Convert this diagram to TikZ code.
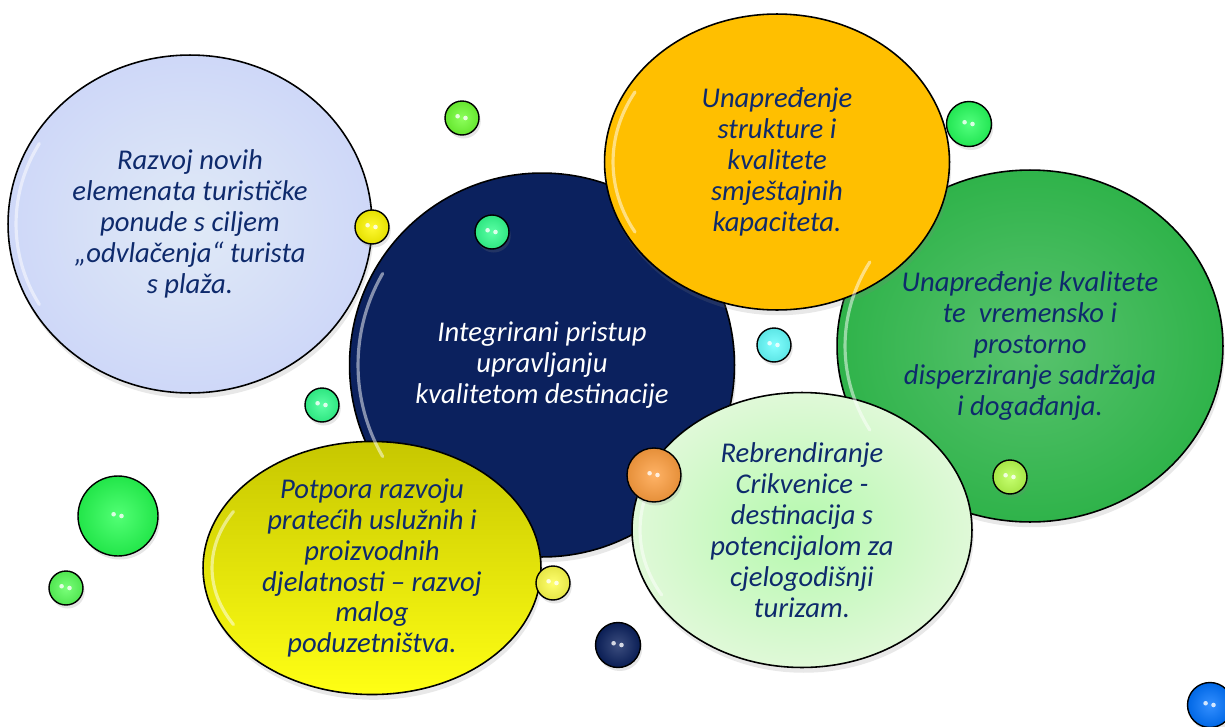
\documentclass[tikz,border=0pt]{standalone}
\usepackage{fontspec}
\setmainfont{Carlito}
\usetikzlibrary{shapes.geometric,shadows,positioning}

\definecolor{txtblue}{HTML}{0E2A6C}
\definecolor{skyblue}{HTML}{D3E1F4}
\definecolor{navyfill}{HTML}{0B215E}
\definecolor{amber}{HTML}{FFBF00}
\definecolor{leafgreen}{HTML}{2FB34A}
\definecolor{lemon}{HTML}{E2E200}
\definecolor{mint}{HTML}{C6F4B8}

\tikzset{
  bubble/.style={ellipse, draw=black, line width=0.9pt, inner sep=0pt, align=center,
    text=txtblue, font=\fontsize{16.3}{17.6}\selectfont\itshape,
    drop shadow={opacity=0.18, shadow xshift=1pt, shadow yshift=-3pt}},
  drop/.style={circle, draw=black, line width=0.8pt, inner sep=0pt,
    inner color=#1!80!white, outer color=#1!90!black,
    drop shadow={opacity=0.2, shadow xshift=1pt, shadow yshift=-2pt},
    path picture={
      \fill[white, opacity=0.8] ([shift={(-2.5pt,1pt)}]path picture bounding box.center) circle (1.3pt);
      \fill[white, opacity=0.8] ([shift={(2pt,0pt)}]path picture bounding box.center) circle (1.3pt);}},
  gloss/.style={white, opacity=0.5, line width=1.8pt, line cap=round}
}

\begin{document}
\begin{tikzpicture}[x=0.02cm, y=-0.02cm]
\useasboundingbox (0,0) rectangle (1225,727);

%Declare nodes.
\node[bubble, minimum width=7.28cm, minimum height=6.76cm,
  inner color=skyblue!70!white, outer color=skyblue!90!blue!75!white] (razvoj) at (190,224)
  {Razvoj novih\\ elemenata turističke\\ ponude s ciljem\\ „odvlačenja“ turista\\ s plaža.};
\node[bubble, minimum width=7.7cm, minimum height=7.68cm, fill=navyfill,
  text=white] (pristup) at (542,365)
  {Integrirani pristup\\ upravljanju\\ kvalitetom destinacije};
\node[bubble, minimum width=7.72cm, minimum height=7.04cm,
  inner color=leafgreen!80!white, outer color=leafgreen] (disperz) at (1030,346)
  {Unapređenje kvalitete\\ te\ \ vremensko i\\ prostorno\\ disperziranje sadržaja\\ i događanja.};
\node[bubble, minimum width=6.9cm, minimum height=5.92cm, fill=amber] (smjestaj) at (777,162)
  {Unapređenje\\ strukture i\\ kvalitete\\ smještajnih\\ kapaciteta.};
\node[bubble, minimum width=6.76cm, minimum height=4.86cm, shading angle=45,
  top color=lemon!88!black, bottom color=yellow!92!white] (potpora) at (372,568)
  {Potpora razvoju\\ pratećih uslužnih i\\ proizvodnih\\ djelatnosti -- razvoj\\ malog\\ poduzetništva.};
\node[bubble, minimum width=6.8cm, minimum height=5.5cm,
  inner color=mint!75!green!70!white, outer color=mint!55!white] (rebrend) at (802,530)
  {Rebrendiranje\\ Crikvenice -\\ destinacija s\\ potencijalom za\\ cjelogodišnji\\ turizam.};

%Inner gloss.
\foreach \cx/\cy/\rx/\ry in {190/224/174/161, 542/365/184/183, 1030/346/185/168,
  777/162/164/140, 372/568/160/113, 802/530/162/130}
  \draw[gloss] (\cx,\cy) ++(150:\rx cm/50 and \ry cm/50)
    arc[start angle=150, end angle=210, x radius=\rx*0.02cm, y radius=\ry*0.02cm];

%Small drops.
\node[drop=yellow!95!orange, minimum size=0.68cm] (d1) at (372,227) {};
\node[drop=green!55!cyan!80!white, minimum size=0.68cm] (d2) at (322,405) {};
\node[drop=green!55!cyan!80!white, minimum size=0.68cm] (d3) at (492,232) {};
\node[drop=orange!75!white, minimum size=1.08cm] (d4) at (654,475) {};
\node[drop=green!70!yellow!80!white, minimum size=0.68cm] (d5) at (462,118) {};
\node[drop=green!75!cyan!85!white, minimum size=0.9cm] (d6) at (969,124) {};
\node[drop=cyan!60!white, minimum size=0.68cm] (d7) at (774,345) {};
\node[drop=yellow!60!green!70!white, minimum size=0.68cm] (d8) at (1010,477) {};
\node[drop=green!80!cyan!85!white, minimum size=1.6cm] (d9) at (118,516) {};
\node[drop=green!65!white, minimum size=0.68cm] (d10) at (66,588) {};
\node[drop=yellow!70!white, minimum size=0.68cm] (d11) at (553,583) {};
\node[drop=navyfill, minimum size=0.9cm] (d12) at (618,645) {};
\node[drop=blue!55!cyan, minimum size=0.9cm] (d13) at (1210,705) {};

\end{tikzpicture}
\end{document}
